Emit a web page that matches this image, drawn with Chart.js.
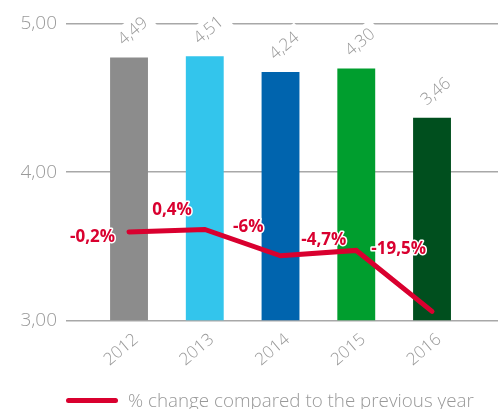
<!DOCTYPE html>
<html>

<head>
    <title>price per unit</title>
    <script src="https://cdn.jsdelivr.net/npm/chart.js"></script>
    <style>
        body { margin: 0; background: #fff; }
        #wrap { position: relative; width: 498px; height: 409px; }
        #legend {
            position: absolute; left: 66px; top: 387px;
            display: flex; align-items: center;
            font-family: 'Open Sans', sans-serif; font-weight: 300; font-size: 18.8px; color: #999;
            white-space: nowrap;
        }
        #legend .swatch { width: 52px; height: 5px; border-radius: 3px; margin-right: 10px; }
    </style>
</head>

<body>
    <div id="wrap">
        <canvas id="myChart" width="498" height="409"></canvas>
        <div id="legend"></div>
    </div>
    <script>
        const years = ['2012', '2013', '2014', '2015', '2016'];
        const values = [4.49, 4.51, 4.24, 4.30, 3.46];
        const changes = [-0.2, 0.4, -6, -4.7, -19.5];
        const barColors = ['#8c8c8c', '#33c5ec', '#0064ae', '#009e2e', '#004f1e'];
        const yTicks = [3, 4, 5];
        const changeLabel = '% change compared to the previous year';

        const red = '#d9002f';
        const grey = '#9a9a9a';

        const fmtValue = v => v.toFixed(2).replace('.', ',');
        const fmtPct = v => String(v).replace('.', ',') + '%';

        // rotated value labels above the bars, on a white patch
        const barValueLabels = {
            id: 'barValueLabels',
            afterDatasetsDraw(chart) {
                const meta = chart.getDatasetMeta(1);
                const ctx = chart.ctx;
                meta.data.forEach((bar, i) => {
                    const text = fmtValue(values[i]);
                    ctx.save();
                    ctx.font = '300 17px "Open Sans"';
                    ctx.translate(bar.x + 4, bar.y - 26);
                    ctx.rotate(-40 * Math.PI / 180);
                    const w = ctx.measureText(text).width;
                    ctx.fillStyle = '#fff';
                    ctx.fillRect(-w / 2 - 6, -12, w + 12, 24);
                    ctx.fillStyle = grey;
                    ctx.textAlign = 'center';
                    ctx.textBaseline = 'middle';
                    ctx.fillText(text, 0, 0);
                    ctx.restore();
                });
            }
        };

        // red % labels next to the line points
        const changeLabels = {
            id: 'changeLabels',
            afterDatasetsDraw(chart, args, opts) {
                const meta = chart.getDatasetMeta(0);
                const ctx = chart.ctx;
                ctx.save();
                ctx.font = '700 17px "Open Sans"';
                ctx.textAlign = 'right';
                ctx.textBaseline = 'middle';
                ctx.lineJoin = 'round';
                meta.data.forEach((pt, i) => {
                    const [dx, dy] = opts.offsets[i];
                    const text = fmtPct(changes[i]);
                    ctx.lineWidth = 3;
                    ctx.strokeStyle = '#fff';
                    ctx.strokeText(text, pt.x + dx, pt.y + dy);
                    ctx.fillStyle = red;
                    ctx.fillText(text, pt.x + dx, pt.y + dy);
                });
                ctx.restore();
            }
        };

        const ctx = document.getElementById('myChart').getContext('2d');
        new Chart(ctx, {
            data: {
                datasets: [{
                    type: 'line',
                    label: changeLabel,
                    data: changes.map((v, i) => ({ x: i, y: v })),
                    xAxisID: 'x',
                    yAxisID: 'yPct',
                    borderColor: red,
                    borderWidth: 5,
                    borderCapStyle: 'round',
                    pointRadius: 0,
                    tension: 0,
                    order: 0
                }, {
                    type: 'bar',
                    label: 'value',
                    data: values.map((v, i) => ({ x: i, y: v })),
                    xAxisID: 'x',
                    yAxisID: 'yBar',
                    backgroundColor: barColors,
                    categoryPercentage: 1,
                    barPercentage: 0.5,
                    order: 1
                }]
            },
            options: {
                responsive: false,
                animation: false,
                layout: { padding: { top: 24, bottom: 38 } },
                plugins: {
                    legend: { display: false },
                    tooltip: { enabled: false },
                    changeLabels: { offsets: [[-14, 5], [-13, -19], [-17, -29], [-10, -10], [-6, -62]] }
                },
                scales: {
                    x: {
                        type: 'linear',
                        offset: false,
                        min: -0.832,
                        max: 4.871,
                        afterBuildTicks: s => { s.ticks = years.map((y, i) => ({ value: i })); },
                        grid: { display: false },
                        border: { display: false },
                        ticks: {
                            autoSkip: false,
                            minRotation: 40,
                            maxRotation: 40,
                            padding: 1,
                            labelOffset: 7,
                            color: grey,
                            font: { family: 'Open Sans', weight: '300', size: 17 },
                            callback: v => years[v]
                        }
                    },
                    y: {
                        position: 'left',
                        min: yTicks[0],
                        max: yTicks[yTicks.length - 1],
                        afterBuildTicks: s => { s.ticks = yTicks.map(v => ({ value: v })); },
                        afterFit: s => { s.width = 66; },
                        grid: { color: '#a8a8a8', lineWidth: 1.5, drawTicks: false },
                        border: { display: false },
                        ticks: {
                            padding: 9,
                            color: grey,
                            font: { family: 'Open Sans', weight: '300', size: 19 },
                            callback: v => fmtValue(v)
                        }
                    },
                    yBar: { display: false, min: 0, max: 5.06 },
                    yPct: { display: false, min: -21.7, max: 50.3 }
                }
            },
            plugins: [barValueLabels, changeLabels]
        });

        document.getElementById('legend').innerHTML =
            '<span class="swatch" style="background:' + red + '"></span><span>' + changeLabel + '</span>';
    </script>
</body>

</html>
